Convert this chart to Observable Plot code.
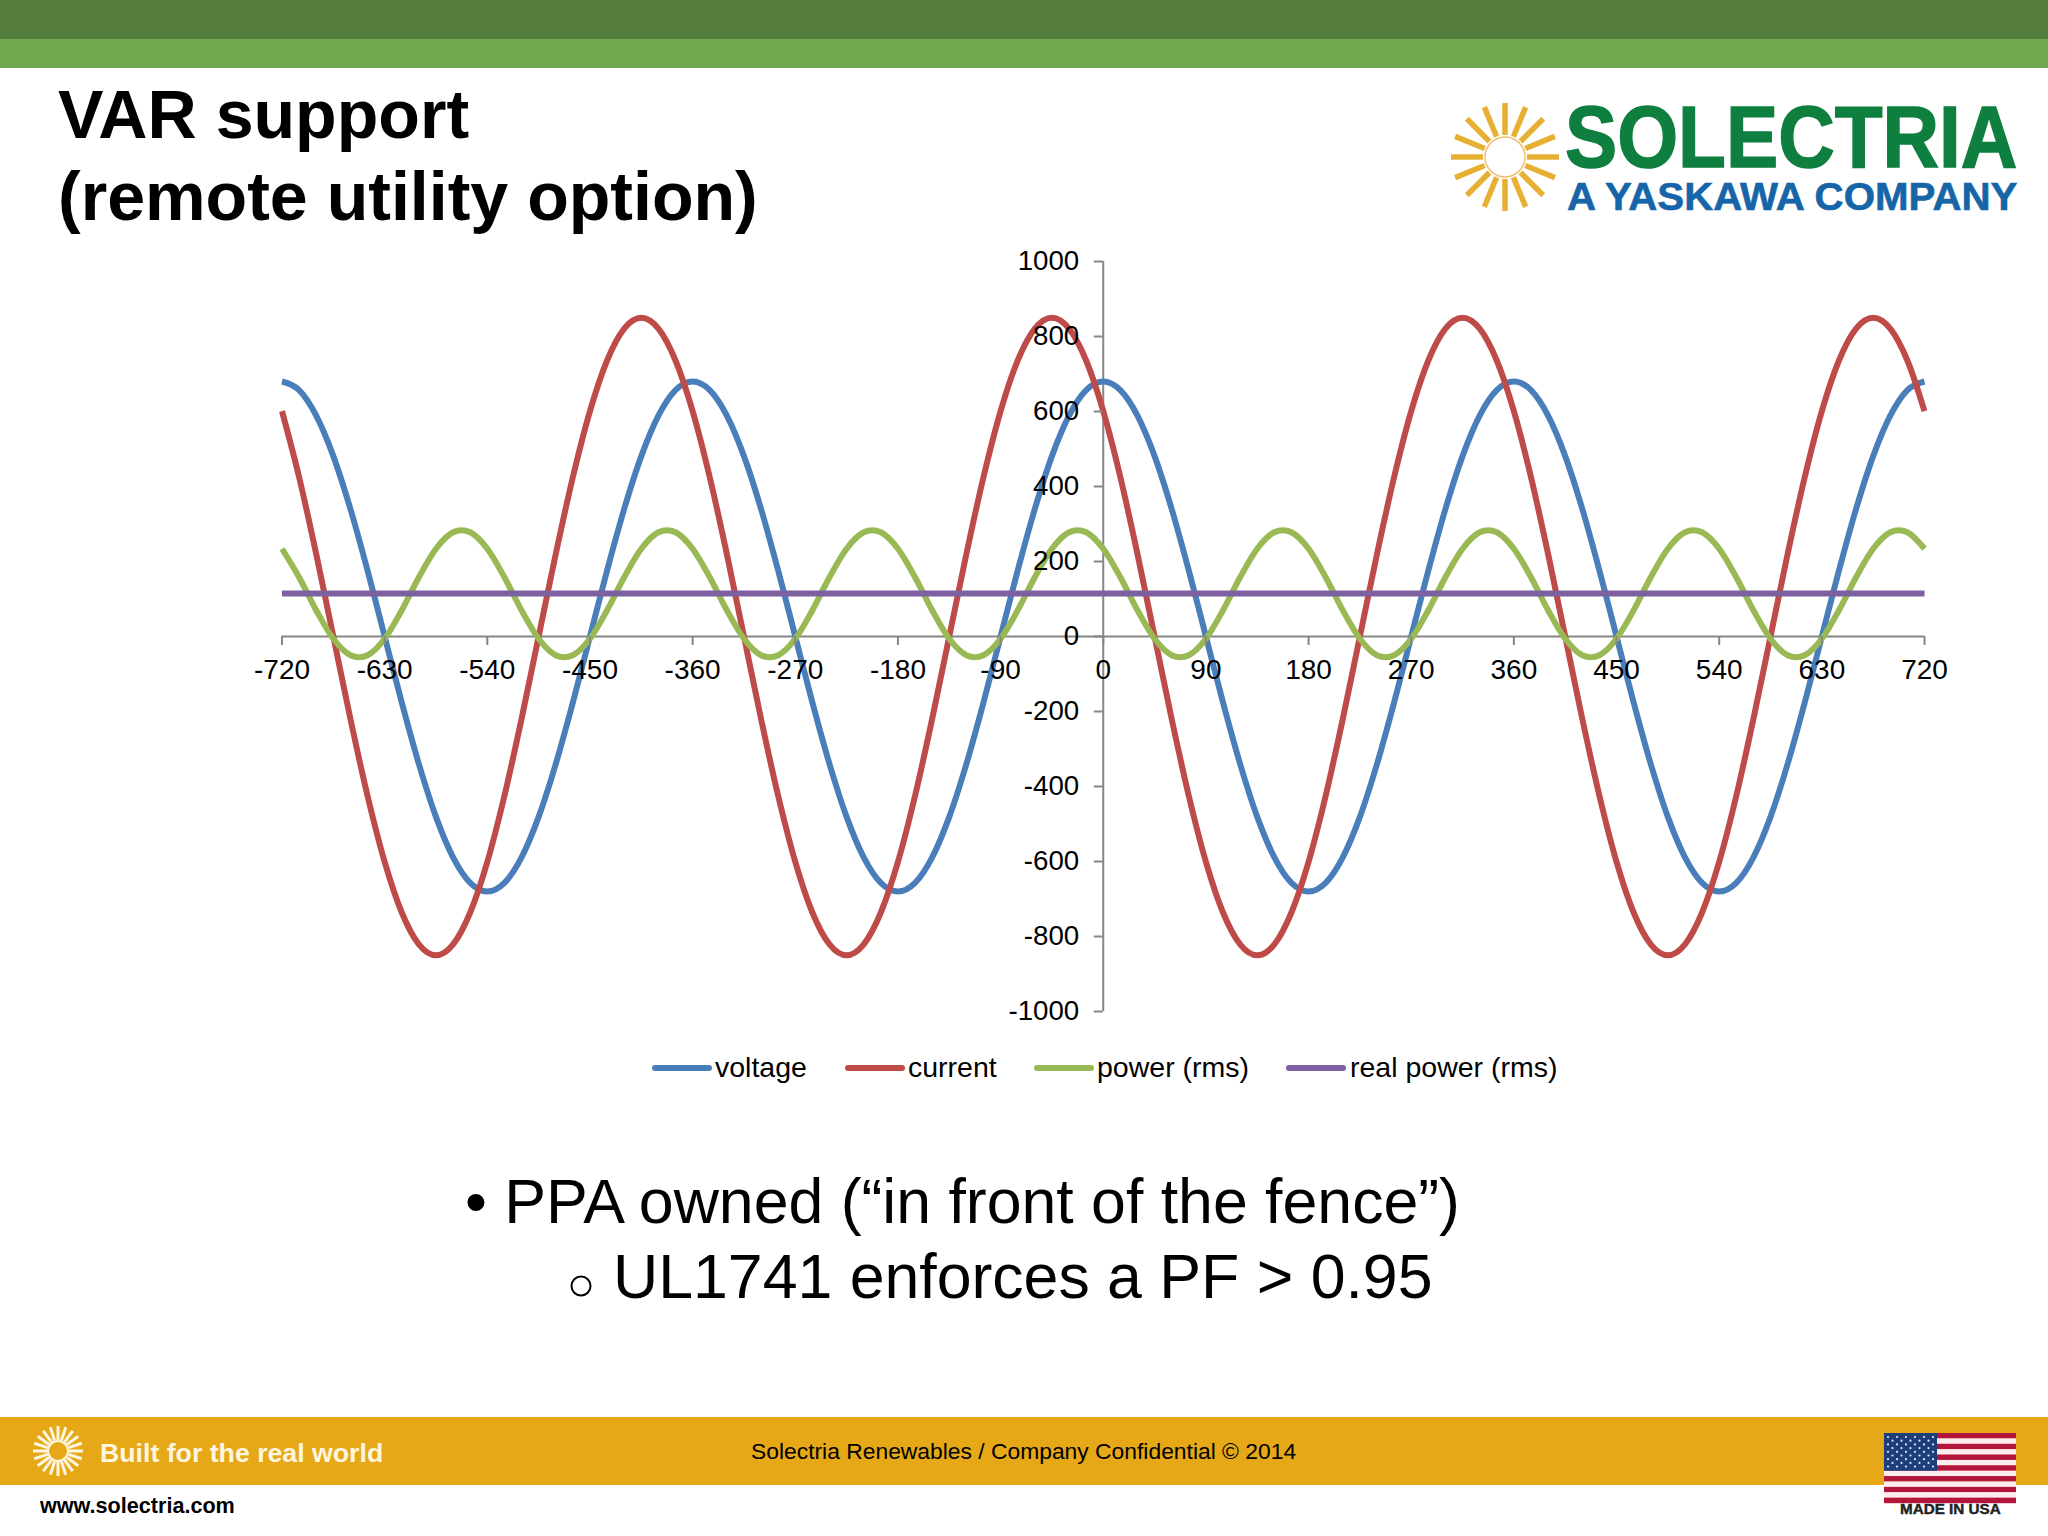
<!DOCTYPE html>
<html><head><meta charset="utf-8">
<script src="https://cdn.jsdelivr.net/npm/d3@7"></script>
<script src="https://cdn.jsdelivr.net/npm/@observablehq/plot@0.6"></script>
<style>
html,body{margin:0;padding:0;background:#fff;width:2048px;height:1536px;overflow:hidden;font-family:"Liberation Sans",Arial,sans-serif;color:#000}
.a{position:absolute;white-space:nowrap;line-height:1}
.band{position:absolute;left:0;width:2048px}
svg.deco{position:absolute;left:0;top:0;overflow:visible}
#chart{position:absolute;left:0;top:240px}
.sw{position:absolute;height:6px;width:60px;border-radius:3px}
</style></head><body>
<div class="band" style="top:0;height:39px;background:#557D3D"></div>
<div class="band" style="top:39px;height:29px;background:#70A84F"></div>
<div class="band" style="top:1417px;height:68px;background:#E6A817"></div>

<div class="a" id="t1" style="left:58px;top:80px;font-size:68.1px;font-weight:bold">VAR support</div>
<div class="a" id="t2" style="left:58px;top:162px;font-size:68.1px;font-weight:bold">(remote utility option)</div>

<div id="chart"></div>

<div id="legend"></div>

<div class="a" style="left:465px;top:1170px;font-size:62.6px">• PPA owned (“in front of the fence”)</div>
<div class="a" style="left:613px;top:1245px;font-size:62.6px">UL1741 enforces a PF &gt; 0.95</div>

<div class="a" style="left:100px;top:1440px;font-size:26.7px;font-weight:bold;color:#FFF6E0">Built for the real world</div>
<div class="a" style="left:751px;top:1440px;font-size:22.85px">Solectria Renewables / Company Confidential © 2014</div>
<div class="a" style="left:40px;top:1495px;font-size:21.6px;font-weight:bold">www.solectria.com</div>

<svg class="deco" id="deco" width="2048" height="1536" xmlns="http://www.w3.org/2000/svg"></svg>

<script>
const angle = [-720,-705,-690,-675,-660,-645,-630,-615,-600,-585,-570,-555,-540,-525,-510,-495,-480,-465,-450,-435,-420,-405,-390,-375,
-360,-345,-330,-315,-300,-285,-270,-255,-240,-225,-210,-195,-180,-165,-150,-135,-120,-105,-90,-75,-60,-45,-30,-15,
0,15,30,45,60,75,90,105,120,135,150,165,180,195,210,225,240,255,270,285,300,315,330,345,
360,375,390,405,420,435,450,465,480,495,510,525,540,555,570,585,600,615,630,645,660,675,690,705,720];
const voltage = [680,657,589,481,340,176,0,-176,-340,-481,-589,-657,-680,-657,-589,-481,-340,-176,0,176,340,481,589,657,
680,657,589,481,340,176,0,-176,-340,-481,-589,-657,-680,-657,-589,-481,-340,-176,0,176,340,481,589,657,
680,657,589,481,340,176,0,-176,-340,-481,-589,-657,-680,-657,-589,-481,-340,-176,0,176,340,481,589,657,
680,657,589,481,340,176,0,-176,-340,-481,-589,-657,-680,-657,-589,-481,-340,-176,0,176,340,481,589,657,680];
const current = [601,425,220,0,-220,-425,-601,-736,-821,-850,-821,-736,-601,-425,-220,0,220,425,601,736,821,850,821,736,
601,425,220,0,-220,-425,-601,-736,-821,-850,-821,-736,-601,-425,-220,0,220,425,601,736,821,850,821,736,
601,425,220,0,-220,-425,-601,-736,-821,-850,-821,-736,-601,-425,-220,0,220,425,601,736,821,850,821,736,
601,425,220,0,-220,-425,-601,-736,-821,-850,-821,-736,-601,-425,-220,0,220,425,601,736,821,850,821,736,601];
const powerRms = [234,158,70,-6,-50,-50,-6,70,158,234,278,278,234,158,70,-6,-50,-50,-6,70,158,234,278,278,
234,158,70,-6,-50,-50,-6,70,158,234,278,278,234,158,70,-6,-50,-50,-6,70,158,234,278,278,
234,158,70,-6,-50,-50,-6,70,158,234,278,278,234,158,70,-6,-50,-50,-6,70,158,234,278,278,
234,158,70,-6,-50,-50,-6,70,158,234,278,278,234,158,70,-6,-50,-50,-6,70,158,234,278,278,234];
const realPower = [115,115,115,115,115,115,115,115,115,115,115,115,115,115,115,115,115,115,115,115,115,115,115,115,
115,115,115,115,115,115,115,115,115,115,115,115,115,115,115,115,115,115,115,115,115,115,115,115,
115,115,115,115,115,115,115,115,115,115,115,115,115,115,115,115,115,115,115,115,115,115,115,115,
115,115,115,115,115,115,115,115,115,115,115,115,115,115,115,115,115,115,115,115,115,115,115,115,115];
const xTicks = [-720,-630,-540,-450,-360,-270,-180,-90,0,90,180,270,360,450,540,630,720];
const yTicks = [-1000,-800,-600,-400,-200,0,200,400,600,800,1000];
const seriesNames = ["voltage","current","power (rms)","real power (rms)"];
const seriesColors = ["#4A7EBB","#BE4B48","#98B954","#7D60A0"];
const seriesValues = [voltage,current,powerRms,realPower];

const lines = seriesValues.map((vals,i)=>Plot.line(angle.map((a,j)=>({a,v:vals[j]})),{
  x:"a",y:"v",stroke:seriesColors[i],strokeWidth:6,curve:"cardinal",tension:0,strokeLinecap:"butt"}));

const plot = Plot.plot({
  width:2048,height:800,
  marginLeft:281.5,marginRight:124,marginTop:21,marginBottom:29,
  style:{background:"transparent",fontFamily:'"Liberation Sans",Arial,sans-serif',overflow:"visible"},
  x:{domain:[-720,720],axis:null},
  y:{domain:[-1000,1000],axis:null},
  marks:[
    Plot.ruleX([0],{y1:-1000,y2:1000,stroke:"#868686",strokeWidth:2}),
    Plot.ruleY([0],{x1:-720,x2:720,stroke:"#868686",strokeWidth:2}),
    ...lines,
    Plot.axisX(xTicks,{y:0,anchor:"bottom",label:null,tickSize:9,tickPadding:14,fontSize:28,stroke:"#868686",strokeWidth:2,fill:"#000",color:"#000",tickFormat:d=>String(d)}),
    Plot.axisY(yTicks,{x:0,anchor:"left",label:null,tickSize:9,tickPadding:15,fontSize:27.7,stroke:"#868686",strokeWidth:2,fill:"#000",color:"#000",tickFormat:d=>String(d)})
  ]
});
document.getElementById("chart").appendChild(plot);

// legend
const legendSwatchX = [652,845,1034,1286];
const legendTextX = [715,908,1097,1350];
const leg = document.getElementById("legend");
seriesNames.forEach((n,i)=>{
  const s=document.createElement("div");s.className="sw";
  s.style.cssText=`left:${legendSwatchX[i]}px;top:1065px;background:${seriesColors[i]}`;
  leg.appendChild(s);
  const t=document.createElement("div");t.className="a";t.textContent=n;
  t.style.cssText=`left:${legendTextX[i]}px;top:1053px;font-size:28.5px`;
  leg.appendChild(t);
});

// decoration: logo, footer emblem, flag
const NS="http://www.w3.org/2000/svg", deco=document.getElementById("deco");
function el(name,attrs,text){const e=document.createElementNS(NS,name);for(const k in attrs)e.setAttribute(k,attrs[k]);if(text)e.textContent=text;deco.appendChild(e);return e;}
function sun(cx,cy,n,r0,r1,w,color){for(let i=0;i<n;i++){const t=i*2*Math.PI/n;
  el("line",{x1:cx+r0*Math.cos(t),y1:cy+r0*Math.sin(t),x2:cx+r1*Math.cos(t),y2:cy+r1*Math.sin(t),stroke:color,"stroke-width":w});}}
sun(1505,157,16,22,54,5.5,"#E6B033");
el("circle",{cx:1505,cy:157,r:20,fill:"none",stroke:"#F0C070","stroke-width":1.5});
el("text",{transform:"translate(1565,167) scale(.90,1)","font-size":87,"font-weight":"bold",fill:"#0F7F3F",stroke:"#0F7F3F","stroke-width":1.5,"font-family":"Liberation Sans"},"SOLECTRIA");
el("text",{transform:"translate(1567,210) scale(1.033,1)","font-size":39,"font-weight":"bold",fill:"#1565A8",stroke:"#1565A8","stroke-width":0.6,"font-family":"Liberation Sans"},"A YASKAWA COMPANY");
sun(58,1451,20,11,25,3,"#FFF6E0");
el("circle",{cx:58,cy:1451,r:10,fill:"none",stroke:"#FFF6E0","stroke-width":2});
// hollow sub-bullet
el("circle",{cx:581,cy:1286,r:9.5,fill:"none",stroke:"#000","stroke-width":2});
// flag
for(let i=0;i<13;i++){el("rect",{x:1884,y:1433+i*70/13,width:132,height:70/13+0.2,fill:i%2?"#FBEDEF":"#B3163A"});}
el("rect",{x:1884,y:1433,width:53,height:37.7,fill:"#1C3F7C"});
for(let r=0;r<9;r++)for(let c=0;c<(r%2?5:6);c++){el("circle",{cx:1888+c*9+(r%2?4.5:0),cy:1437+r*3.7,r:1.1,fill:"#DDE6F2"});}
el("text",{transform:"translate(1900,1514) scale(1.09,1)","font-size":14,"font-weight":"bold",fill:"#222",stroke:"#222","stroke-width":0.4,"font-family":"Liberation Sans"},"MADE IN USA");
</script>
</body></html>
